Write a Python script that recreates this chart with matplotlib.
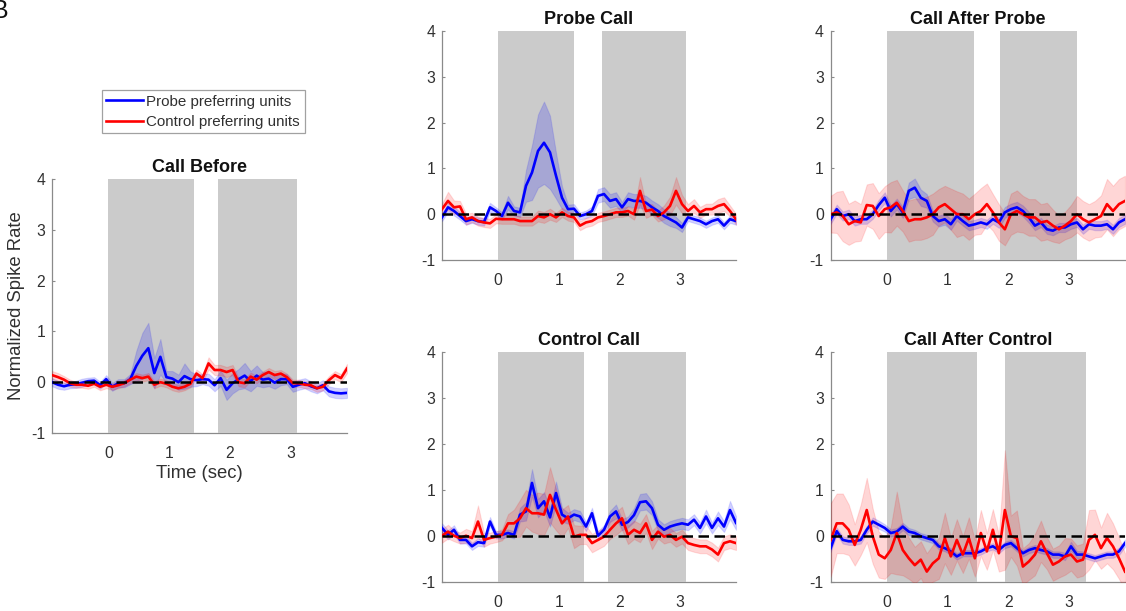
import matplotlib
matplotlib.use("Agg")
import matplotlib.pyplot as plt
from matplotlib.lines import Line2D
import numpy as np

plt.rcParams['font.family'] = ['Liberation Sans', 'DejaVu Sans']
plt.rcParams['axes.unicode_minus'] = False

# time bins (sec), 50 bins spanning the plotted window
t = np.linspace(-0.93, 3.93, 50)

# ---- Call Before ----
before_probe_mean = [0.00, -0.05, -0.08, -0.05, -0.04, -0.01, 0.02, 0.03, -0.06, 0.06,
                     -0.09, -0.02, -0.02, 0.06, 0.32, 0.52, 0.67, 0.18, 0.50, 0.10,
                     0.07, 0.00, 0.12, 0.06, 0.04, 0.06, 0.05, -0.06, 0.08, -0.15,
                     -0.02, 0.06, 0.13, 0.02, 0.13, 0.05, 0.07, -0.01, 0.06, 0.06,
                     -0.09, -0.05, -0.02, -0.08, -0.12, -0.06, -0.18, -0.21, -0.22, -0.21]
before_probe_sem = [0.08, 0.08, 0.07, 0.07, 0.07, 0.08, 0.07, 0.07, 0.07, 0.08,
                    0.08, 0.08, 0.08, 0.10, 0.30, 0.45, 0.50, 0.30, 0.35, 0.12,
                    0.15, 0.15, 0.25, 0.15, 0.12, 0.10, 0.12, 0.12, 0.15, 0.20,
                    0.20, 0.20, 0.25, 0.20, 0.20, 0.15, 0.15, 0.12, 0.12, 0.10,
                    0.10, 0.10, 0.10, 0.10, 0.10, 0.10, 0.10, 0.10, 0.10, 0.10]
before_control_mean = [0.14, 0.10, 0.05, -0.02, -0.05, -0.05, -0.07, -0.03, -0.09, -0.05,
                       -0.09, -0.06, -0.02, 0.05, 0.11, 0.08, 0.11, -0.05, 0.00, -0.03,
                       -0.09, -0.12, -0.09, -0.03, 0.17, 0.08, 0.37, 0.24, 0.24, 0.20,
                       0.24, 0.00, -0.02, 0.11, 0.05, 0.14, 0.20, 0.14, 0.17, 0.10,
                       -0.02, -0.02, -0.05, -0.06, -0.12, -0.09, 0.04, 0.14, 0.08, 0.27]
before_control_sem = [0.08, 0.08, 0.07, 0.07, 0.06, 0.06, 0.06, 0.06, 0.07, 0.07,
                      0.06, 0.06, 0.06, 0.07, 0.07, 0.07, 0.07, 0.07, 0.07, 0.07,
                      0.07, 0.07, 0.07, 0.07, 0.08, 0.08, 0.12, 0.10, 0.10, 0.10,
                      0.10, 0.08, 0.08, 0.08, 0.07, 0.07, 0.08, 0.08, 0.07, 0.07,
                      0.07, 0.07, 0.07, 0.07, 0.07, 0.07, 0.08, 0.08, 0.08, 0.09]

# ---- Probe Call ----
probe_probe_mean = [-0.07, 0.15, 0.07, -0.04, -0.15, -0.11, -0.15, -0.17, 0.15, 0.07,
                    -0.04, 0.25, 0.07, 0.04, 0.62, 0.91, 1.38, 1.56, 1.35, 0.84,
                    0.36, 0.11, 0.12, -0.04, 0.00, 0.07, 0.40, 0.44, 0.29, 0.33,
                    0.15, 0.33, 0.29, 0.29, 0.25, 0.15, 0.07, -0.04, -0.11, -0.18,
                    -0.29, -0.07, -0.11, -0.15, -0.22, -0.15, -0.11, -0.25, -0.11, -0.15]
probe_probe_sem = [0.08, 0.10, 0.10, 0.08, 0.08, 0.08, 0.08, 0.08, 0.10, 0.08,
                   0.08, 0.15, 0.10, 0.10, 0.35, 0.60, 0.80, 0.90, 0.80, 0.50,
                   0.25, 0.10, 0.10, 0.08, 0.08, 0.10, 0.15, 0.15, 0.15, 0.15,
                   0.12, 0.15, 0.15, 0.15, 0.15, 0.15, 0.15, 0.15, 0.15, 0.12,
                   0.10, 0.08, 0.08, 0.08, 0.08, 0.08, 0.08, 0.08, 0.08, 0.08]
probe_control_mean = [0.11, 0.29, 0.15, 0.17, -0.11, -0.07, -0.15, -0.18, -0.20, -0.10,
                      -0.11, -0.11, -0.11, -0.15, -0.15, -0.15, -0.04, -0.07, 0.00, -0.07,
                      0.04, -0.04, -0.07, -0.25, -0.18, -0.15, -0.07, -0.04, 0.00, 0.04,
                      0.04, 0.07, 0.00, 0.51, 0.07, 0.10, -0.04, 0.04, 0.18, 0.51,
                      0.22, 0.07, 0.18, 0.04, 0.11, 0.11, 0.18, 0.22, 0.07, -0.11]
probe_control_sem = [0.12, 0.20, 0.15, 0.12, 0.12, 0.10, 0.10, 0.10, 0.10, 0.10,
                     0.10, 0.10, 0.10, 0.10, 0.10, 0.10, 0.12, 0.12, 0.12, 0.10,
                     0.10, 0.10, 0.10, 0.10, 0.10, 0.10, 0.10, 0.10, 0.10, 0.10,
                     0.10, 0.10, 0.12, 0.30, 0.15, 0.12, 0.12, 0.15, 0.20, 0.30,
                     0.20, 0.15, 0.15, 0.12, 0.12, 0.12, 0.15, 0.15, 0.12, 0.12]

# ---- Call After Probe ----
afterprobe_probe_mean = [-0.11, 0.11, -0.04, 0.00, -0.15, -0.11, -0.11, 0.00, 0.20, 0.36,
                         0.07, 0.22, 0.04, 0.51, 0.58, 0.36, 0.29, -0.04, -0.15, -0.11,
                         -0.22, -0.04, -0.15, -0.25, -0.22, -0.18, -0.22, -0.11, -0.18, 0.04,
                         0.11, 0.15, 0.07, -0.07, -0.25, -0.18, -0.33, -0.36, -0.29, -0.29,
                         -0.22, -0.18, -0.33, -0.22, -0.25, -0.25, -0.22, -0.33, -0.18, -0.11]
afterprobe_probe_sem = [0.10, 0.10, 0.10, 0.10, 0.10, 0.10, 0.10, 0.10, 0.12, 0.12,
                        0.12, 0.12, 0.12, 0.18, 0.20, 0.18, 0.15, 0.12, 0.12, 0.12,
                        0.12, 0.10, 0.10, 0.10, 0.10, 0.10, 0.10, 0.10, 0.12, 0.12,
                        0.12, 0.12, 0.12, 0.12, 0.10, 0.10, 0.10, 0.10, 0.10, 0.10,
                        0.10, 0.10, 0.10, 0.10, 0.10, 0.10, 0.10, 0.10, 0.10, 0.10]
afterprobe_control_mean = [0.00, 0.04, -0.04, -0.22, -0.15, -0.18, 0.20, 0.18, -0.04, 0.11,
                           0.15, 0.25, 0.07, -0.15, -0.11, -0.11, -0.07, 0.00, 0.15, 0.22,
                           0.11, 0.00, 0.00, -0.11, 0.00, 0.07, 0.22, 0.04, -0.18, -0.33,
                           0.00, 0.07, 0.00, -0.07, -0.07, -0.18, -0.15, -0.25, -0.33, -0.25,
                           -0.15, 0.00, -0.11, -0.18, -0.11, -0.04, 0.22, 0.07, 0.22, 0.29]
afterprobe_control_sem = [0.40, 0.45, 0.55, 0.45, 0.45, 0.40, 0.45, 0.50, 0.50, 0.50,
                          0.55, 0.50, 0.45, 0.45, 0.45, 0.45, 0.45, 0.45, 0.40, 0.40,
                          0.45, 0.50, 0.45, 0.45, 0.45, 0.50, 0.45, 0.40, 0.40, 0.35,
                          0.45, 0.45, 0.40, 0.40, 0.40, 0.40, 0.40, 0.35, 0.30, 0.30,
                          0.35, 0.40, 0.40, 0.40, 0.40, 0.45, 0.55, 0.55, 0.55, 0.55]

# ---- Control Call ----
control_probe_mean = [0.17, 0.02, 0.13, -0.09, -0.09, -0.23, -0.14, -0.16, 0.31, 0.02,
                      0.02, 0.06, 0.02, 0.46, 0.53, 1.15, 0.60, 0.75, 0.40, 0.93,
                      0.46, 0.38, 0.46, 0.42, 0.20, 0.49, 0.00, 0.13, 0.42, 0.53,
                      0.24, 0.30, 0.45, 0.73, 0.75, 0.60, 0.24, 0.13, 0.20, 0.24,
                      0.27, 0.24, 0.35, 0.17, 0.42, 0.17, 0.38, 0.20, 0.56, 0.28]
control_probe_sem = [0.10, 0.10, 0.10, 0.08, 0.08, 0.08, 0.08, 0.08, 0.10, 0.08,
                     0.08, 0.08, 0.08, 0.15, 0.20, 0.30, 0.20, 0.20, 0.20, 0.25,
                     0.15, 0.12, 0.12, 0.12, 0.10, 0.12, 0.10, 0.10, 0.12, 0.15,
                     0.12, 0.12, 0.15, 0.18, 0.18, 0.15, 0.12, 0.12, 0.12, 0.12,
                     0.12, 0.12, 0.12, 0.12, 0.15, 0.12, 0.15, 0.12, 0.20, 0.15]
control_control_mean = [0.00, 0.09, 0.00, -0.05, 0.00, -0.05, 0.31, -0.09, -0.05, -0.02,
                        0.02, 0.27, 0.27, 0.38, 0.60, 0.49, 0.49, 0.46, 0.89, 0.57,
                        0.27, 0.42, -0.02, 0.02, 0.02, -0.16, -0.09, -0.02, 0.13, 0.27,
                        0.38, 0.02, 0.13, 0.06, 0.27, -0.09, 0.09, -0.02, 0.02, -0.09,
                        -0.02, -0.16, -0.20, -0.23, -0.23, -0.30, -0.41, -0.16, -0.12, -0.16]
control_control_sem = [0.15, 0.15, 0.12, 0.12, 0.15, 0.15, 0.35, 0.15, 0.12, 0.12,
                       0.12, 0.20, 0.30, 0.40, 0.40, 0.40, 0.45, 0.45, 0.60, 0.45,
                       0.30, 0.25, 0.25, 0.20, 0.20, 0.20, 0.20, 0.20, 0.20, 0.25,
                       0.25, 0.20, 0.20, 0.20, 0.20, 0.20, 0.15, 0.15, 0.15, 0.15,
                       0.15, 0.15, 0.15, 0.15, 0.15, 0.15, 0.15, 0.15, 0.15, 0.15]

# ---- Call After Control ----
aftercontrol_probe_mean = [-0.27, 0.10, -0.09, -0.12, -0.12, -0.09, 0.13, 0.31, 0.24, 0.17,
                           0.06, 0.09, 0.20, 0.09, 0.06, -0.01, -0.05, -0.09, -0.23, -0.27,
                           -0.34, -0.45, -0.38, -0.38, -0.38, -0.34, -0.27, -0.23, -0.31, -0.20,
                           -0.16, -0.27, -0.38, -0.31, -0.27, -0.31, -0.34, -0.41, -0.41, -0.45,
                           -0.23, -0.41, -0.41, -0.45, -0.49, -0.45, -0.41, -0.41, -0.34, -0.16]
aftercontrol_probe_sem = [0.08, 0.08, 0.08, 0.08, 0.08, 0.08, 0.08, 0.09, 0.09, 0.08,
                          0.08, 0.08, 0.08, 0.08, 0.07, 0.07, 0.07, 0.07, 0.07, 0.07,
                          0.07, 0.07, 0.07, 0.07, 0.07, 0.07, 0.07, 0.07, 0.07, 0.07,
                          0.07, 0.07, 0.07, 0.07, 0.07, 0.07, 0.07, 0.07, 0.07, 0.08,
                          0.10, 0.08, 0.07, 0.07, 0.07, 0.07, 0.07, 0.07, 0.08, 0.08]
aftercontrol_control_mean = [-0.09, 0.27, 0.27, 0.13, -0.20, 0.13, 0.56, -0.01, -0.41, -0.49,
                             -0.31, 0.06, -0.31, -0.49, -0.64, -0.52, -0.78, -0.60, -0.49, -0.05,
                             -0.45, -0.09, -0.41, -0.05, -0.49, 0.06, -0.34, 0.13, -0.38, 0.56,
                             -0.01, -0.05, -0.67, -0.56, -0.41, -0.12, -0.38, -0.63, -0.56, -0.45,
                             -0.41, -0.56, -0.52, -0.09, 0.02, -0.27, -0.05, -0.23, -0.49, -0.78]
aftercontrol_control_sem = [0.80, 0.65, 0.65, 0.55, 0.45, 0.55, 0.70, 0.60, 0.50, 0.45,
                            0.50, 0.90, 0.55, 0.45, 0.40, 0.40, 0.40, 0.40, 0.45, 0.55,
                            0.40, 0.45, 0.40, 0.45, 0.40, 0.50, 0.40, 0.45, 0.40, 1.30,
                            0.45, 0.60, 0.40, 0.40, 0.45, 0.45, 0.35, 0.35, 0.35, 0.40,
                            0.35, 0.35, 0.35, 0.65, 0.55, 0.45, 0.55, 0.50, 0.45, 0.40]

# call presentation windows (sec): first call, second call
before_windows = [(0, 1.41), (1.80, 3.11)]
probe_windows = [(0, 1.26), (1.72, 3.11)]
afterprobe_windows = [(0, 1.43), (1.86, 3.13)]
control_windows = [(0, 1.42), (1.81, 3.11)]
aftercontrol_windows = [(0, 1.48), (1.95, 3.28)]

titles = ['Call Before', 'Probe Call', 'Call After Probe', 'Control Call', 'Call After Control']
yticks = [-1, 0, 1, 2, 3, 4]
xticks = [0, 1, 2, 3]

W, H = 1126, 611
fig = plt.figure(figsize=(W / 100, H / 100), dpi=100)

def px_axes(x0, y0, x1, y1):
    return fig.add_axes([x0 / W, 1 - y1 / H, (x1 - x0) / W, (y1 - y0) / H])

axes = [
    px_axes(52, 179, 347, 433),
    px_axes(442, 31, 736, 260),
    px_axes(830.7, 31, 1125, 260),
    px_axes(442, 352, 736, 581.7),
    px_axes(830.7, 352, 1125, 581.7),
]

panels = [
    (before_probe_mean, before_probe_sem, before_control_mean, before_control_sem, before_windows),
    (probe_probe_mean, probe_probe_sem, probe_control_mean, probe_control_sem, probe_windows),
    (afterprobe_probe_mean, afterprobe_probe_sem, afterprobe_control_mean, afterprobe_control_sem, afterprobe_windows),
    (control_probe_mean, control_probe_sem, control_control_mean, control_control_sem, control_windows),
    (aftercontrol_probe_mean, aftercontrol_probe_sem, aftercontrol_control_mean, aftercontrol_control_sem, aftercontrol_windows),
]

spine_col = '#8a8a8a'
text_col = '#303030'

for ax, title, (pm, ps, cm, cs, wins) in zip(axes, titles, panels):
    pm, ps, cm, cs = map(np.asarray, (pm, ps, cm, cs))
    for a, b in wins:
        ax.axvspan(a, b, color='#cbcbcb', lw=0, zorder=2.6)
    ax.fill_between(t, pm - ps, pm + ps, facecolor=(0, 0, 1, 0.18),
                    edgecolor=(0, 0, 1, 0.12), lw=0.8, zorder=2.7)
    ax.fill_between(t, cm - cs, cm + cs, facecolor=(1, 0, 0, 0.16),
                    edgecolor=(1, 0, 0, 0.12), lw=0.8, zorder=2.7)
    ax.plot(t, pm, color=(0, 0, 1), lw=1.9, zorder=2.8)
    ax.plot(t, cm, color=(1, 0, 0), lw=1.9, zorder=2.9)
    ax.axhline(0, color='black', lw=1.8, ls=(0, (4.2, 2.2)), zorder=3)

    ax.set_xlim(-0.93, 3.93)
    ax.set_ylim(-1, 4)
    ax.set_xticks(xticks)
    ax.set_yticks(yticks)
    ax.set_yticklabels([str(v) for v in yticks])
    ax.tick_params(axis='y', direction='in', length=2.5, width=0.8, color=spine_col,
                   labelsize=11.3, labelcolor=text_col, pad=5)
    ax.tick_params(axis='x', length=0, labelsize=11.3, labelcolor=text_col, pad=9.5)
    for s in ('top', 'right'):
        ax.spines[s].set_visible(False)
    for s in ('left', 'bottom'):
        ax.spines[s].set_color(spine_col)
        ax.spines[s].set_linewidth(0.9)
    ax.set_title(title, fontsize=13, fontweight='bold', color='#111111', pad=5)

axes[0].set_ylabel('Normalized Spike Rate', fontsize=13.3, color=text_col, labelpad=4)
axes[0].set_xlabel('Time (sec)', fontsize=13.3, color=text_col, labelpad=3)

handles = [Line2D([], [], color=(0, 0, 1), lw=1.9), Line2D([], [], color=(1, 0, 0), lw=1.9)]
leg = fig.legend(handles, ['Probe preferring units', 'Control preferring units'],
                 loc='upper left', bbox_to_anchor=(101.7 / W, 1 - 90 / H),
                 borderaxespad=0, fontsize=10.9, fancybox=False, frameon=True,
                 edgecolor='#8a8a8a', handlelength=2.4, handletextpad=0.25,
                 borderpad=0.3, labelspacing=0.42)
leg.get_frame().set_linewidth(0.9)
for txt in leg.get_texts():
    txt.set_color(text_col)

# panel letter, partly cut off at the top-left corner as in the source figure
fig.text(-8.5 / W, 1 - 18 / H, 'B', fontsize=18, color='#111111', va='baseline')

fig.savefig('out.png', dpi=100)
